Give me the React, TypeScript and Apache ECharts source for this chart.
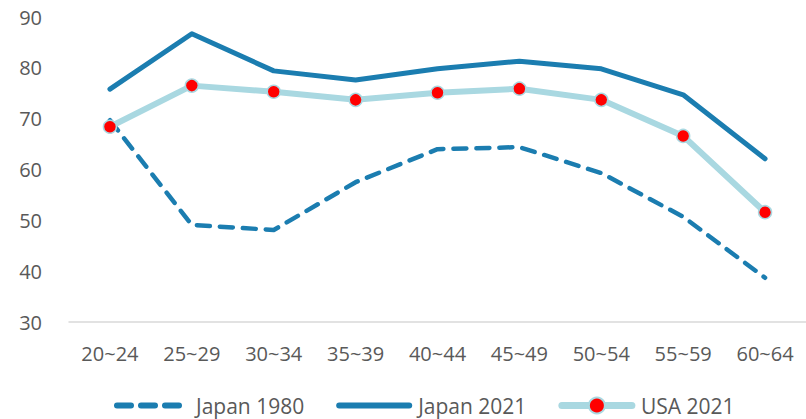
import React, { useEffect, useRef } from "react";
import * as echarts from "echarts";

const categories = ["20~24", "25~29", "30~34", "35~39", "40~44", "45~49", "50~54", "55~59", "60~64"];
const japan1980 = [69.7, 49.1, 48.1, 57.5, 64.0, 64.4, 59.3, 50.7, 38.7];
const japan2021 = [75.8, 86.7, 79.4, 77.6, 79.8, 81.3, 79.8, 74.7, 62.1];
const usa2021 = [68.4, 76.5, 75.3, 73.7, 75.1, 75.9, 73.7, 66.6, 51.6];
const seriesNames = ["Japan 1980", "Japan 2021", "USA 2021"];

const DARK = "#1b7db0";
const LIGHT = "#a9d8e1";
const FONT = "'Open Sans', 'Noto Sans', sans-serif";

export default function App() {
  const ref = useRef<HTMLDivElement>(null);
  useEffect(() => {
    if (!ref.current) return;
    const chart = echarts.init(ref.current, undefined, { renderer: "svg" });
    chart.setOption({
      animation: false,
      grid: { left: 69, right: 0, top: 17, bottom: 97 },
      xAxis: {
        type: "category",
        data: categories,
        boundaryGap: true,
        axisLine: { lineStyle: { color: "#d9d9d9", width: 1.5 } },
        axisTick: { show: false },
        axisLabel: { color: "#595959", fontSize: 20, fontFamily: FONT, margin: 21 },
      },
      yAxis: {
        type: "value",
        min: 30,
        max: 90,
        interval: 10,
        axisLine: { show: false },
        axisTick: { show: false },
        splitLine: { show: false },
        axisLabel: { color: "#595959", fontSize: 20, fontFamily: FONT, margin: 27 },
      },
      legend: {
        top: 395,
        left: 114,
        padding: 0,
        itemWidth: 70,
        itemHeight: 20,
        itemGap: 32,
        textStyle: { color: "#595959", fontSize: 21, fontFamily: FONT, padding: [0, 0, 0, 4] },
        data: [
          { name: seriesNames[0], itemStyle: { opacity: 0 }, lineStyle: { width: 6, type: [14, 10] } },
          { name: seriesNames[1], itemStyle: { opacity: 0 }, lineStyle: { width: 6 } },
          { name: seriesNames[2], lineStyle: { width: 7 } },
        ],
      },
      series: [
        {
          name: seriesNames[0],
          type: "line",
          data: japan1980,
          symbol: "none",
          lineStyle: { color: DARK, width: 4.5, type: [13, 10], cap: "round", join: "round" },
          itemStyle: { color: DARK },
        },
        {
          name: seriesNames[1],
          type: "line",
          data: japan2021,
          symbol: "none",
          lineStyle: { color: DARK, width: 5, cap: "round", join: "round" },
          itemStyle: { color: DARK },
        },
        {
          name: seriesNames[2],
          type: "line",
          data: usa2021,
          symbol: "circle",
          symbolSize: 13,
          lineStyle: { color: LIGHT, width: 6, cap: "round", join: "round" },
          itemStyle: { color: "#ff0000", borderColor: LIGHT, borderWidth: 1.5 },
        },
      ],
    });
    return () => chart.dispose();
  }, []);
  return <div ref={ref} style={{ width: 806, height: 419, position: "absolute", left: 0, top: 0 }} />;
}
